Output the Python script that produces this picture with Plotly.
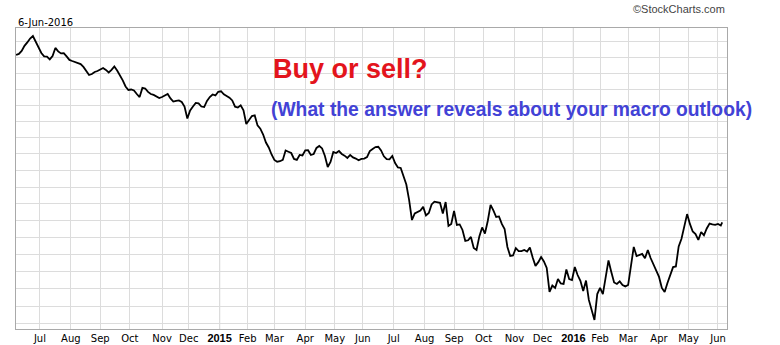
import pandas as pd
import plotly.graph_objects as go

# ---------------- data ----------------
holidays = ["2014-07-04", "2014-09-01", "2014-11-27", "2014-12-25",
            "2015-01-01", "2015-01-19", "2015-02-16", "2015-04-03", "2015-05-25",
            "2015-07-03", "2015-09-07", "2015-11-26", "2015-12-25",
            "2016-01-01", "2016-01-18", "2016-02-15", "2016-03-25", "2016-05-30"]

# closing values, read every second trading day (last point = 6-Jun-2016)
close_2014 = [160.15, 160.22, 160.41, 160.73, 160.95, 161.20, 161.36, 160.98, 160.63, 160.28,
              160.06, 160.05, 159.87, 160.09, 160.60, 160.38, 160.25, 160.27, 160.06, 159.84,
              159.77, 159.71, 159.65, 159.58, 159.40, 159.11, 158.89, 158.95, 159.08, 159.14,
              159.24, 159.33, 159.21, 159.05, 159.21, 159.43, 159.17, 158.89, 158.55, 158.17,
              157.95, 157.98, 157.92, 157.70, 157.51, 158.08, 158.04, 157.83, 157.70, 157.64,
              157.55, 157.45, 157.51, 157.58, 157.70, 157.42, 157.23, 157.27, 157.30, 157.20,
              156.92, 156.18, 156.68, 156.92, 157.14, 157.11, 156.92, 156.89, 157.27, 157.51,
              157.67, 157.61, 157.84]
close_2015 = [157.87, 157.68, 157.58, 157.47, 157.30, 156.91, 156.86,
              156.99, 156.68, 155.84, 156.09, 156.33, 156.37, 155.75, 155.55, 155.19, 154.70,
              154.40, 153.97, 153.64, 153.53, 153.56, 153.64, 154.22, 154.14, 154.06, 153.70,
              153.64, 153.94, 153.91, 154.22, 154.23, 153.94, 154.00, 154.37, 154.49, 154.34,
              153.88, 153.21, 153.52, 154.12, 154.06, 154.18, 154.00, 153.90, 153.76, 153.94,
              153.79, 153.72, 153.62, 153.70, 153.72, 153.81, 154.18, 154.31, 154.42, 154.44,
              154.22, 153.86, 153.69, 153.67, 153.88, 153.45, 153.18, 153.15, 152.58, 152.15,
              151.22, 150.03, 150.42, 150.53, 150.59, 150.81, 150.30, 150.45, 150.96, 151.12,
              151.10, 151.05, 150.42, 151.10, 149.68, 149.80, 150.57, 149.74, 149.77, 149.44,
              148.79, 148.83, 149.03, 148.38, 148.26, 149.06, 149.59, 149.23, 149.97, 150.93,
              150.60, 150.21, 150.24, 149.80, 149.50, 148.44, 147.91, 147.94, 148.37, 148.20,
              148.19, 148.26, 148.17, 148.41, 147.82, 147.33, 147.55, 147.85, 147.59, 147.21,
              145.82, 146.19, 146.05, 146.57, 146.31, 146.28, 147.12, 146.57, 146.51]
close_2016 = [147.27,
              146.80, 146.46, 145.88, 146.48, 145.36, 144.81, 144.21, 145.70, 146.05, 145.70,
              146.75, 147.65, 146.98, 146.37, 146.28, 146.43, 146.22, 146.14, 146.22, 147.33,
              148.44, 147.91, 147.96, 148.03, 147.78, 148.26, 147.79, 147.41, 147.04, 146.69,
              146.05, 145.82, 146.34, 146.86, 147.26, 147.30, 148.47, 148.92, 149.56, 150.38,
              149.80, 149.35, 149.20, 148.85, 149.32, 149.12, 149.53, 149.82, 149.77, 149.74,
              149.80, 149.70, 149.89]

month_ticks = ["2014-07-01", "2014-08-01", "2014-09-02", "2014-10-01", "2014-11-03", "2014-12-01",
               "2015-01-02", "2015-02-02", "2015-03-02", "2015-04-01", "2015-05-01", "2015-06-01",
               "2015-07-01", "2015-08-03", "2015-09-01", "2015-10-01", "2015-11-02", "2015-12-01",
               "2016-01-04", "2016-02-01", "2016-03-01", "2016-04-01", "2016-05-02", "2016-06-01"]
month_labels = ["Jul", "Aug", "Sep", "Oct", "Nov", "Dec", "2015", "Feb", "Mar", "Apr", "May", "Jun",
                "Jul", "Aug", "Sep", "Oct", "Nov", "Dec", "2016", "Feb", "Mar", "Apr", "May", "Jun"]
year_ticks = ["2015-01-02", "2016-01-04"]
price_grid = list(range(144, 162))

# ---------------- build ----------------
days = pd.bdate_range("2014-06-06", "2016-06-06")
days = days[~days.isin(pd.to_datetime(holidays))]
sample_days = list(days[::2]) + [days[-1]]
close = close_2014 + close_2015 + close_2016

ticktext = []
for lab in month_labels:
    if lab.isdigit():
        ticktext.append('<span style="font-family:Liberation Sans;font-size:11px"><b>%s</b></span>' % lab)
    else:
        ticktext.append(lab)

fig = go.Figure()
fig.add_trace(go.Scatter(x=sample_days, y=close, mode="lines",
                         line=dict(color="#000000", width=1.8), hoverinfo="skip"))

W, H = 780, 345
ml, mr, mt, mb = 16, 53, 28, 16

def px_x(x):
    return (x - ml) / (W - ml - mr)

def px_y(y):
    return (H - mb - y) / (H - mt - mb)

shapes = []
for d in year_ticks:
    shapes.append(dict(type="line", xref="x", yref="paper", x0=d, x1=d, y0=0, y1=1,
                       line=dict(color="#ababab", width=1), layer="below"))

annotations = [
    dict(text="6-Jun-2016", x=px_x(16), y=px_y(22), xref="paper", yref="paper",
         xanchor="left", yanchor="middle", showarrow=False,
         font=dict(family="DejaVu Sans", size=10, color="#000000")),
    dict(text="\u00a9StockCharts.com", x=px_x(727), y=px_y(9), xref="paper", yref="paper",
         xanchor="right", yanchor="middle", showarrow=False,
         font=dict(family="Liberation Sans", size=11, color="#444444")),
    dict(text="<b>Buy or sell?</b>", x=px_x(271), y=px_y(69), xref="paper", yref="paper",
         xanchor="left", yanchor="middle", showarrow=False,
         font=dict(family="Liberation Sans", size=27, color="#e3141c")),
    dict(text="<b>(What the answer reveals about your macro outlook)</b>", x=px_x(269),
         y=px_y(109), xref="paper", yref="paper",
         xanchor="left", yanchor="middle", showarrow=False,
         font=dict(family="Liberation Sans", size=19.3, color="#4242d6")),
]

fig.update_layout(
    width=W, height=H, autosize=False,
    margin=dict(l=ml, r=mr, t=mt, b=mb, pad=0),
    paper_bgcolor="#ffffff", plot_bgcolor="#ffffff",
    showlegend=False,
    shapes=shapes, annotations=annotations,
    xaxis=dict(type="date", range=["2014-06-05 23:00", "2016-06-09 10:00"],
               rangebreaks=[dict(bounds=["sat", "mon"]), dict(values=holidays)],
               tickvals=month_ticks, ticktext=ticktext, tickangle=0, automargin=False,
               showgrid=True, gridcolor="#dcdcdc", gridwidth=1,
               showline=True, linecolor="#a9a9a9", linewidth=1, mirror=True,
               ticks="", zeroline=False,
               tickfont=dict(family="DejaVu Sans", size=10, color="#000000")),
    yaxis=dict(type="log", range=[2.15745, 2.20917], tickvals=price_grid, automargin=False,
               showticklabels=False, showgrid=True, gridcolor="#dcdcdc", gridwidth=1,
               showline=True, linecolor="#a9a9a9", linewidth=1, mirror=True,
               ticks="", zeroline=False),
)

fig.write_html("out.html")
